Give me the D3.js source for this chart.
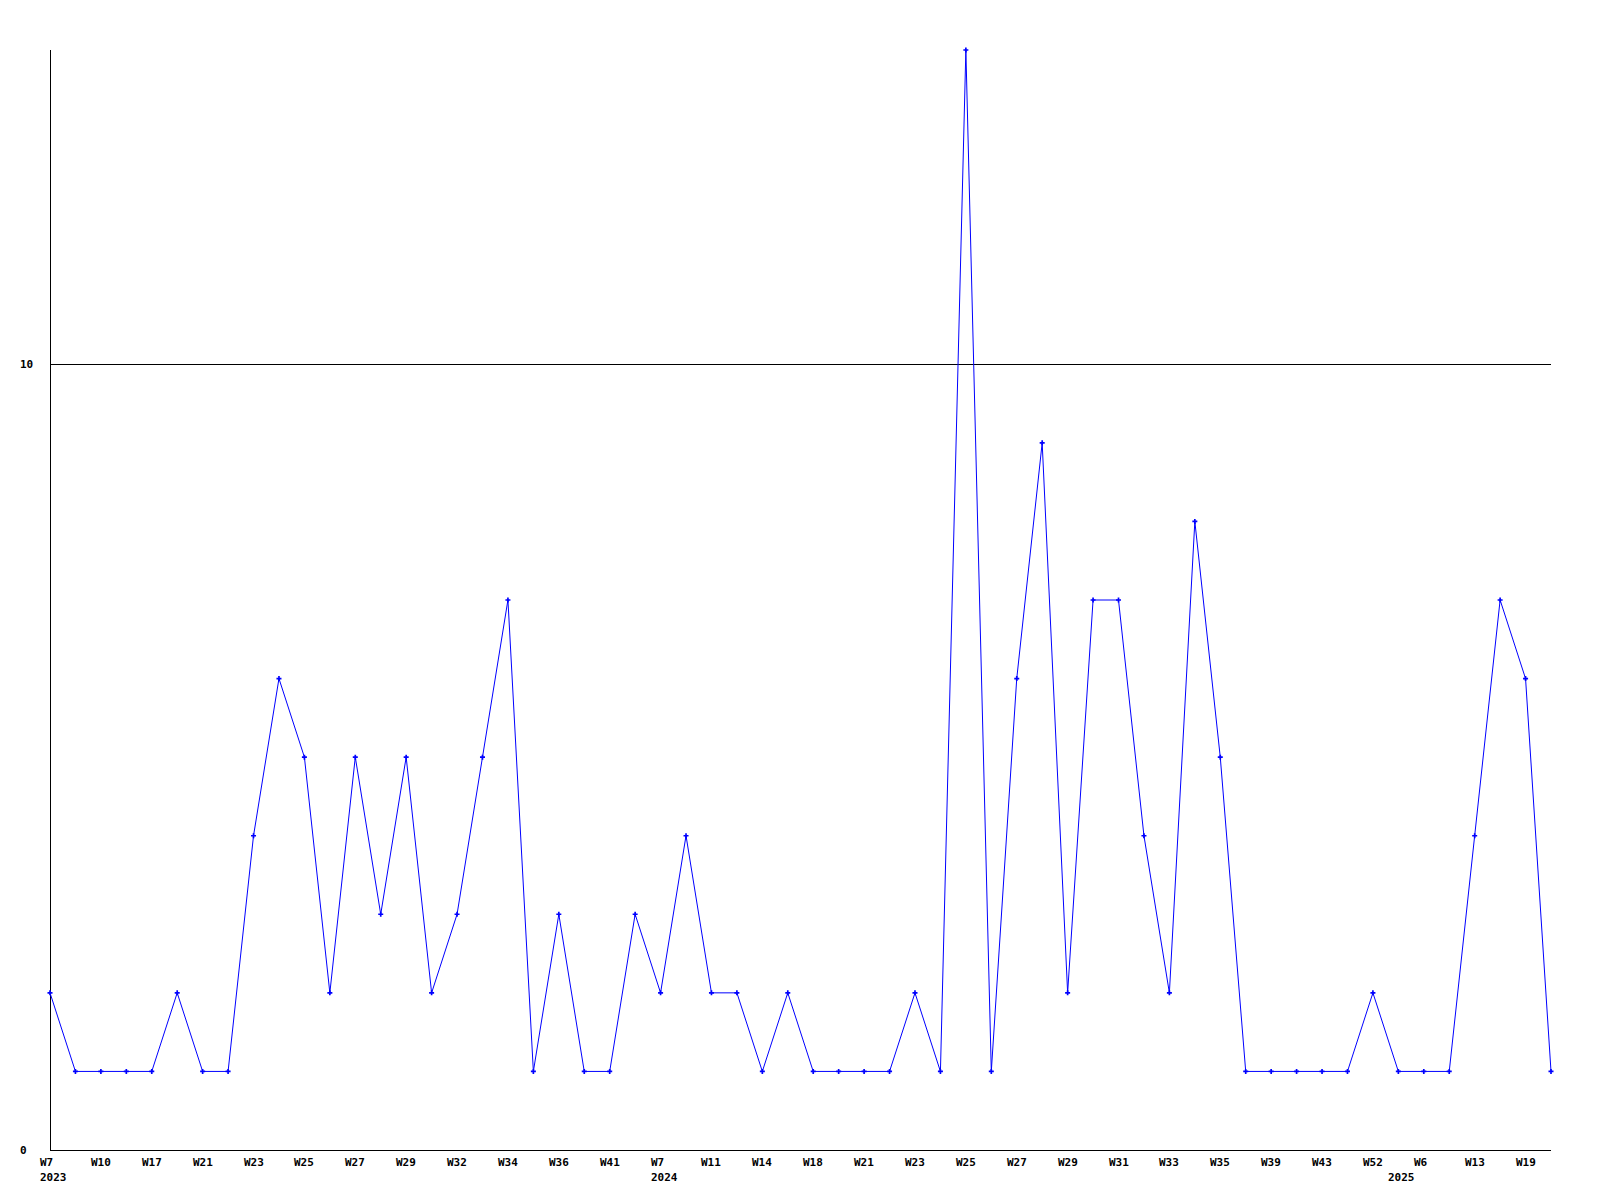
<!DOCTYPE html>
<html><head><meta charset="utf-8">
<script src="https://cdn.jsdelivr.net/npm/d3@7"></script>
<style>body{margin:0;background:#fff}svg{display:block}text{font-family:"DejaVu Sans Mono",monospace;font-weight:bold;font-size:11px;fill:#000}</style>
</head><body>
<script>
const values = [2,1,1,1,1,2,1,1,4,6,5,2,5,3,5,2,3,5,7,1,3,1,1,3,2,4,2,2,1,2,1,1,1,1,2,1,14,1,6,9,2,7,7,4,2,8,5,1,1,1,1,1,2,1,1,1,4,7,6,1];
const weekLabels = ["W7","W10","W17","W21","W23","W25","W27","W29","W32","W34","W36","W41","W7","W11","W14","W18","W21","W23","W25","W27","W29","W31","W33","W35","W39","W43","W52","W6","W13","W19"];
const labelIndex = [0,2,4,6,8,10,12,14,16,18,20,22,24,26,28,30,32,34,36,38,40,42,44,46,48,50,52,54,56,58];
const yearLabels = ["2023","2024","2025"];
const yearIndex = [0,24,53];
const yTicks = [0,10];

const W=1600,H=1200;
const svg=d3.select("body").append("svg").attr("width",W).attr("height",H);
const x=d3.scaleLinear().domain([0,values.length-1]).range([50,1551]);
const y=d3.scaleLinear().domain([0,14]).range([1150,50]);

// axes
svg.append("line").attr("x1",50.5).attr("x2",50.5).attr("y1",50).attr("y2",1150).attr("stroke","#000");
yTicks.forEach(t=>{
  svg.append("line").attr("x1",50).attr("x2",1551).attr("y1",Math.round(y(t))+0.5).attr("y2",Math.round(y(t))+0.5).attr("stroke","#000");
  svg.append("text").attr("x",20).attr("y",y(t)+4).text(t);
});
labelIndex.forEach((i,k)=>{
  svg.append("text").attr("x",Math.round(x(i))-10).attr("y",1166).text(weekLabels[k]);
});
yearIndex.forEach((i,k)=>{
  svg.append("text").attr("x",Math.round(x(i))-10).attr("y",1181).text(yearLabels[k]);
});

const line=d3.line().x((d,i)=>x(i)).y(d=>y(d));
svg.append("path").datum(values).attr("d",line).attr("fill","none").attr("stroke","#0000ff").attr("stroke-width",1);
svg.selectAll(".m").data(values).enter().append("path")
  .attr("transform",(d,i)=>`translate(${x(i)},${y(d)})`)
  .attr("d",d3.symbol().type(d3.symbolCross).size(14)).attr("fill","#0000ff");
</script>
</body></html>
